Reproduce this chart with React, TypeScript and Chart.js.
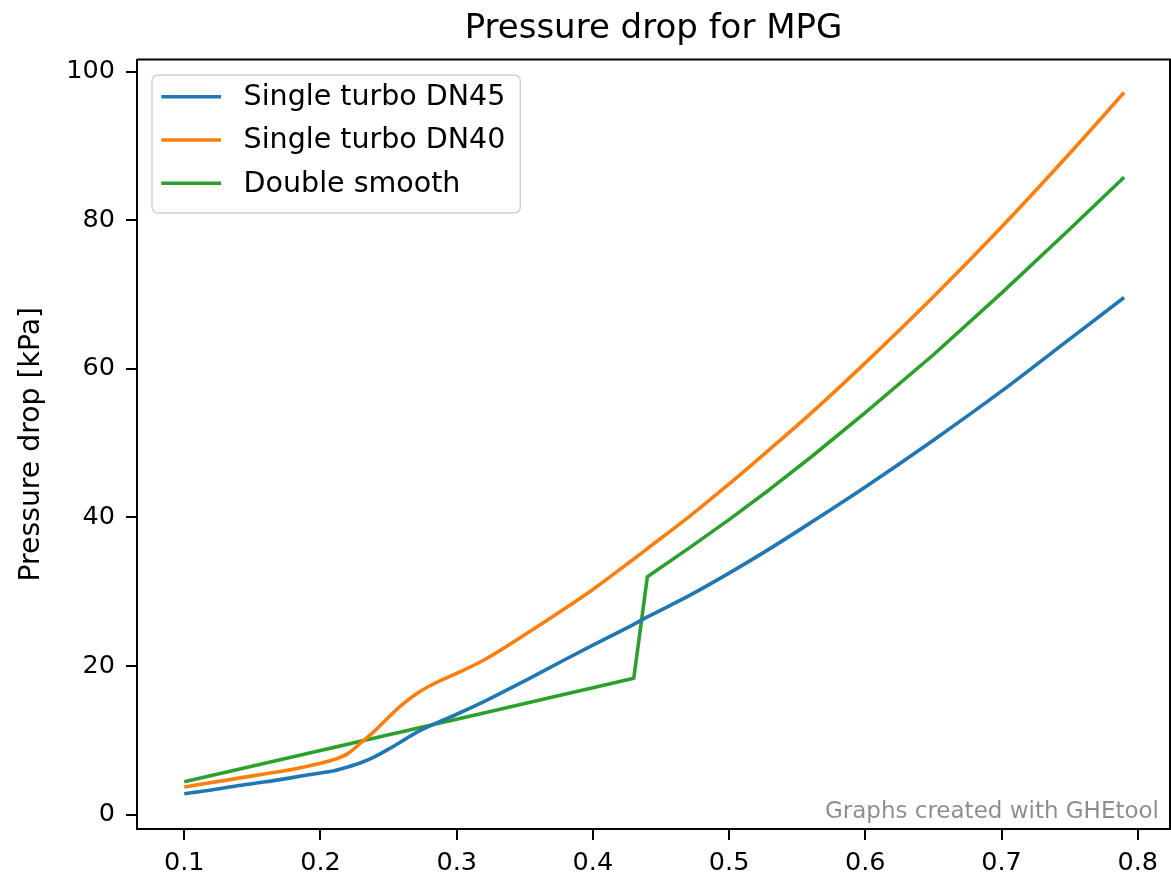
import React, { useEffect, useRef } from 'react';
import { Chart, registerables } from 'chart.js';

Chart.register(...registerables);

// ---- data ----
const flowRates = [
  0.10, 0.12, 0.14, 0.16, 0.18, 0.20, 0.21, 0.22, 0.23, 0.24, 0.25, 0.26, 0.27, 0.28, 0.29, 0.30,
  0.32, 0.35, 0.38, 0.40, 0.43, 0.44, 0.47, 0.50, 0.53, 0.56, 0.60, 0.65, 0.70, 0.75, 0.79,
];
const singleTurboDN45 = [
  2.8, 3.3, 3.9, 4.4, 5.0, 5.6, 5.9, 6.4, 7.0, 7.8, 8.8, 9.9, 11.0, 11.9, 12.7, 13.5,
  15.2, 18.0, 20.9, 22.8, 25.6, 26.6, 29.4, 32.5, 35.8, 39.3, 44.1, 50.4, 57.0, 64.0, 69.6,
];
const singleTurboDN40 = [
  3.7, 4.3, 4.9, 5.5, 6.1, 6.9, 7.4, 8.2, 9.7, 11.3, 13.1, 14.8, 16.2, 17.3, 18.2, 19.0,
  20.8, 24.2, 27.8, 30.3, 34.4, 35.8, 40.0, 44.5, 49.2, 54.0, 60.8, 69.7, 79.1, 89.0, 97.2,
];
const doubleSmooth = [
  4.40, 5.24, 6.09, 6.93, 7.78, 8.62, 9.04, 9.46, 9.89, 10.31, 10.73, 11.15, 11.57, 11.99, 12.42, 12.84,
  13.68, 14.95, 16.22, 17.06, 18.33, 32.0, 35.8, 39.7, 43.8, 48.1, 54.1, 61.9, 70.2, 78.8, 85.8,
];
const seriesNames = ['Single turbo DN45', 'Single turbo DN40', 'Double smooth'];
const seriesColors = ['#1f77b4', '#ff7f0e', '#2ca02c'];
const xTickValues = [0.1, 0.2, 0.3, 0.4, 0.5, 0.6, 0.7, 0.8];
const yTickValues = [0, 20, 40, 60, 80, 100];
const chartTitle = 'Pressure drop for MPG';
const yAxisTitle = 'Pressure drop [kPa]';
const watermarkText = 'Graphs created with GHEtool';

const FONT = '"DejaVu Sans", "Liberation Sans", sans-serif';

export default function App() {
  const canvasRef = useRef<HTMLCanvasElement | null>(null);

  useEffect(() => {
    document.body.style.margin = '0';
    const canvas = canvasRef.current;
    if (!canvas) return;

    const seriesValues = [singleTurboDN45, singleTurboDN40, doubleSmooth];
    const datasets = seriesValues.map((vals, i) => ({
      label: seriesNames[i],
      data: flowRates.map((x, j) => ({ x, y: vals[j] })),
      borderColor: seriesColors[i],
      backgroundColor: seriesColors[i],
      borderWidth: 3.6,
      pointRadius: 0,
      pointHoverRadius: 0,
      fill: false,
      tension: 0,
      cubicInterpolationMode: i === 2 ? 'default' : 'monotone',
      borderJoinStyle: 'round',
      borderCapStyle: 'butt',
    }));

    const decorations = {
      id: 'decorations',
      afterDraw(chart: any) {
        const { ctx, chartArea: a } = chart;
        ctx.save();
        // top and right spines
        ctx.strokeStyle = '#000';
        ctx.lineWidth = 2;
        ctx.beginPath();
        ctx.moveTo(a.left, a.top);
        ctx.lineTo(a.right, a.top);
        ctx.lineTo(a.right, a.bottom);
        ctx.stroke();

        // title
        ctx.font = `34px ${FONT}`;
        ctx.fillStyle = '#000';
        ctx.textAlign = 'center';
        ctx.textBaseline = 'alphabetic';
        ctx.fillText(chartTitle, (a.left + a.right) / 2, 38);

        // watermark
        ctx.font = `23px ${FONT}`;
        ctx.fillStyle = 'rgba(0,0,0,0.45)';
        ctx.textAlign = 'right';
        ctx.fillText(watermarkText, a.right - 11, a.bottom - 11);

        // legend
        ctx.font = `28.5px ${FONT}`;
        let maxW = 0;
        seriesNames.forEach((n) => {
          maxW = Math.max(maxW, ctx.measureText(n).width);
        });
        const bx = a.left + 15;
        const by = a.top + 15.5;
        const textX = bx + 91.6;
        const bw = textX + maxW + 15 - bx;
        const bh = 138;
        const r = 6;
        ctx.beginPath();
        ctx.moveTo(bx + r, by);
        ctx.lineTo(bx + bw - r, by);
        ctx.arcTo(bx + bw, by, bx + bw, by + r, r);
        ctx.lineTo(bx + bw, by + bh - r);
        ctx.arcTo(bx + bw, by + bh, bx + bw - r, by + bh, r);
        ctx.lineTo(bx + r, by + bh);
        ctx.arcTo(bx, by + bh, bx, by + bh - r, r);
        ctx.lineTo(bx, by + r);
        ctx.arcTo(bx, by, bx + r, by, r);
        ctx.closePath();
        ctx.fillStyle = 'rgba(255,255,255,0.8)';
        ctx.fill();
        ctx.strokeStyle = '#d0d0d0';
        ctx.lineWidth = 1.5;
        ctx.stroke();

        seriesNames.forEach((n, i) => {
          const y = by + 21.7 + i * 43.3;
          ctx.strokeStyle = seriesColors[i];
          ctx.lineWidth = 3.6;
          ctx.beginPath();
          ctx.moveTo(bx + 9.3, y);
          ctx.lineTo(bx + 69, y);
          ctx.stroke();
          ctx.fillStyle = '#000';
          ctx.textAlign = 'left';
          ctx.textBaseline = 'middle';
          ctx.fillText(n, textX, y + 1);
        });
        ctx.restore();
      },
    };

    const chart = new Chart(canvas, {
      type: 'line',
      data: { datasets: datasets as any },
      plugins: [decorations],
      options: {
        responsive: false,
        animation: false,
        devicePixelRatio: 1,
        layout: { padding: { top: 59.5, right: 1, left: 0, bottom: 0 } },
        plugins: {
          legend: { display: false },
          title: { display: false },
          tooltip: { enabled: false },
        },
        scales: {
          x: {
            type: 'linear',
            position: 'bottom',
            min: 0.0653,
            max: 0.8237,
            afterBuildTicks: (scale: any) => {
              scale.ticks = xTickValues.map((v) => ({ value: v }));
            },
            afterFit: (scale: any) => {
              scale.height = 46;
            },
            grid: {
              display: true,
              drawOnChartArea: false,
              drawTicks: true,
              tickLength: 11,
              tickColor: '#000',
              lineWidth: 2,
            },
            border: { display: true, color: '#000', width: 2 },
            ticks: {
              color: '#000',
              padding: 8,
              maxRotation: 0,
              autoSkip: false,
              font: { family: FONT, size: 25.5 },
              callback: (v: any) => Number(v).toFixed(1),
            },
          },
          y: {
            type: 'linear',
            position: 'left',
            min: -1.95,
            max: 101.65,
            afterBuildTicks: (scale: any) => {
              scale.ticks = yTickValues.map((v) => ({ value: v }));
            },
            afterFit: (scale: any) => {
              scale.width = 137;
            },
            grid: {
              display: true,
              drawOnChartArea: false,
              drawTicks: true,
              tickLength: 11,
              tickColor: '#000',
              lineWidth: 2,
            },
            border: { display: true, color: '#000', width: 2 },
            title: {
              display: true,
              text: yAxisTitle,
              color: '#000',
              font: { family: FONT, size: 28.3 },
              padding: { top: 14.2, bottom: 0 },
            },
            ticks: {
              color: '#000',
              padding: 11,
              autoSkip: false,
              font: { family: FONT, size: 25.5 },
              callback: (v: any) => String(Math.round(Number(v))),
            },
          },
        },
      },
    });

    return () => {
      chart.destroy();
    };
  }, []);

  return (
    <div style={{ width: 1171, height: 875, position: 'relative' }}>
      <canvas ref={canvasRef} width={1171} height={875} style={{ display: 'block' }} />
    </div>
  );
}
